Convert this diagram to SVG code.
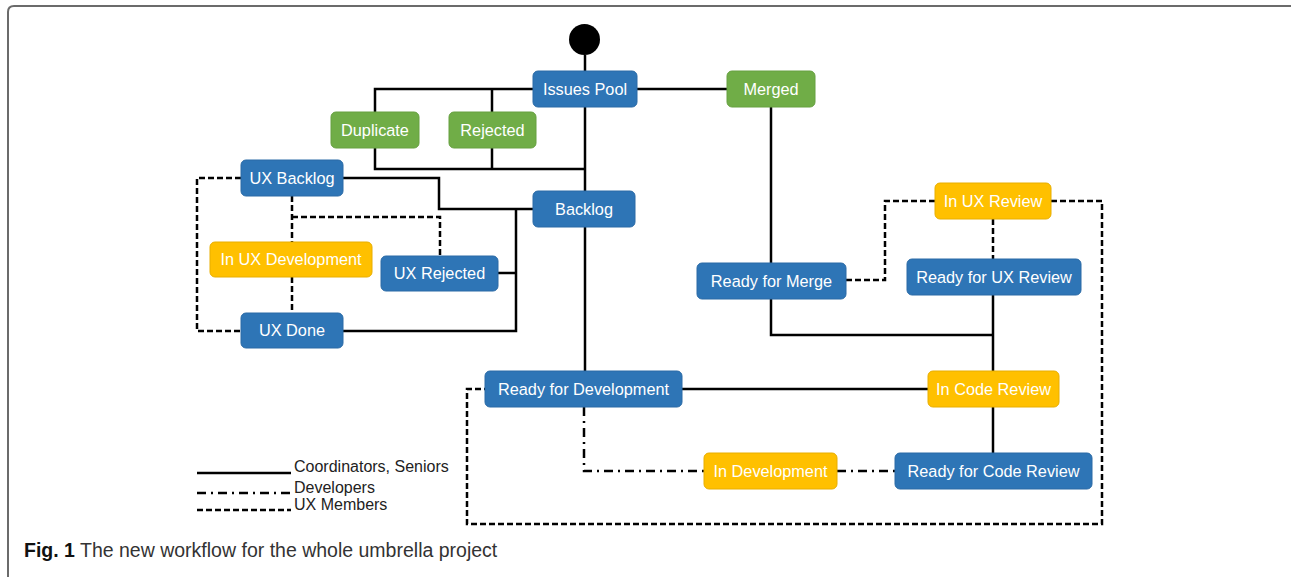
<svg xmlns="http://www.w3.org/2000/svg" width="1291" height="577" viewBox="0 0 1291 577">
<style>
.bg{fill:#ffffff}
.frame{fill:none;stroke:#6b6b6b;stroke-width:2}
.b rect{fill:#2E75B6;stroke:#2a6aa6;stroke-width:1}
.g rect{fill:#70AD47;stroke:#66a040;stroke-width:1}
.y rect{fill:#FFC000;stroke:#e8ae00;stroke-width:1}
.node text{font-family:"Liberation Sans",Arial,sans-serif;font-size:16.3px;fill:#ffffff;text-anchor:middle}
.s{fill:none;stroke:#000;stroke-width:2.5}
.d{fill:none;stroke:#000;stroke-width:2.5;stroke-dasharray:6 3}
.dd{fill:none;stroke:#000;stroke-width:2.5;stroke-dasharray:9 5 2 5}
.leg{font-family:"Liberation Sans",Arial,sans-serif;font-size:16px;fill:#222}
.cap{font-family:"Liberation Sans",Arial,sans-serif;font-size:19.5px;fill:#333}
</style>
<rect class="bg" x="0" y="0" width="1291" height="577"/>
<path class="frame" d="M8 577 V12 Q8 6 14 6 H1291"/>

<g id="connectors">
  <path class="s" d="M585 55 V71"/>
  <path class="s" d="M533 89 H375 V112 M492 89 V112"/>
  <path class="s" d="M375 148 V169 H585 M492 148 V169"/>
  <path class="s" d="M585 107 V191"/>
  <path class="s" d="M637 89 H727"/>
  <path class="s" d="M343 178 H439 V209 H533"/>
  <path class="s" d="M498 273 H516 M516 209 V331 H343"/>
  <path class="s" d="M585 227 V371"/>
  <path class="s" d="M771 107 V263"/>
  <path class="s" d="M771 299 V335 H993 M993 295 V371"/>
  <path class="s" d="M682 389 H928"/>
  <path class="s" d="M993 407 V453"/>
  <path class="d" d="M241 178 H197 V331 H241"/>
  <path class="d" d="M292 196 V242 M292 217 H440 V256 M292 277 V313"/>
  <path class="d" d="M846 280 H885 V201 H935"/>
  <path class="d" d="M993 219 V259"/>
  <path class="d" d="M1051 201 H1102 V524 H467 V389 H485"/>
  <path class="dd" d="M584 407 V471 H704"/>
  <path class="dd" d="M837 471 H895"/>
</g>

<g id="start"><circle cx="584.5" cy="39.5" r="15.5" fill="#000"/></g>

<g id="issues-pool" class="node b"><rect x="533" y="71" width="104" height="36" rx="5"/><text x="585" y="94.5">Issues Pool</text></g>
<g id="duplicate" class="node g"><rect x="331" y="112" width="88" height="36" rx="5"/><text x="375" y="135.5">Duplicate</text></g>
<g id="rejected" class="node g"><rect x="449" y="112" width="87" height="36" rx="5"/><text x="492.5" y="135.5">Rejected</text></g>
<g id="merged" class="node g"><rect x="727" y="71" width="88" height="36" rx="5"/><text x="771" y="94.5">Merged</text></g>
<g id="ux-backlog" class="node b"><rect x="241" y="160" width="102" height="36" rx="5"/><text x="292" y="183.5">UX Backlog</text></g>
<g id="backlog" class="node b"><rect x="533" y="191" width="102" height="36" rx="5"/><text x="584" y="214.5">Backlog</text></g>
<g id="in-ux-development" class="node y"><rect x="210" y="242" width="162" height="35" rx="5"/><text x="291" y="265">In UX Development</text></g>
<g id="ux-rejected" class="node b"><rect x="381" y="256" width="117" height="35" rx="5"/><text x="439.5" y="279">UX Rejected</text></g>
<g id="ux-done" class="node b"><rect x="241" y="313" width="102" height="35" rx="5"/><text x="292" y="336">UX Done</text></g>
<g id="in-ux-review" class="node y"><rect x="935" y="183" width="116" height="36" rx="5"/><text x="993" y="206.5">In UX Review</text></g>
<g id="ready-for-merge" class="node b"><rect x="697" y="263" width="149" height="36" rx="5"/><text x="771.5" y="286.5">Ready for Merge</text></g>
<g id="ready-for-ux-review" class="node b"><rect x="907" y="259" width="174" height="36" rx="5"/><text x="994" y="282.5">Ready for UX Review</text></g>
<g id="ready-for-development" class="node b"><rect x="485" y="371" width="197" height="36" rx="5"/><text x="583.5" y="394.5">Ready for Development</text></g>
<g id="in-code-review" class="node y"><rect x="928" y="371" width="131" height="36" rx="5"/><text x="993.5" y="394.5">In Code Review</text></g>
<g id="in-development" class="node y"><rect x="704" y="453" width="133" height="36" rx="5"/><text x="770.5" y="476.5">In Development</text></g>
<g id="ready-for-code-review" class="node b"><rect x="895" y="453" width="197" height="36" rx="5"/><text x="993.5" y="476.5">Ready for Code Review</text></g>

<g id="legend">
  <path class="s" d="M197 473 H291"/>
  <path class="dd" d="M197 493 H291"/>
  <path class="d" d="M197 510 H291"/>
  <text class="leg" x="294" y="472">Coordinators, Seniors</text>
  <text class="leg" x="294" y="493">Developers</text>
  <text class="leg" x="294" y="510">UX Members</text>
</g>

<text class="cap" x="24" y="557"><tspan font-weight="bold" fill="#111">Fig. 1</tspan> The new workflow for the whole umbrella project</text>
</svg>
